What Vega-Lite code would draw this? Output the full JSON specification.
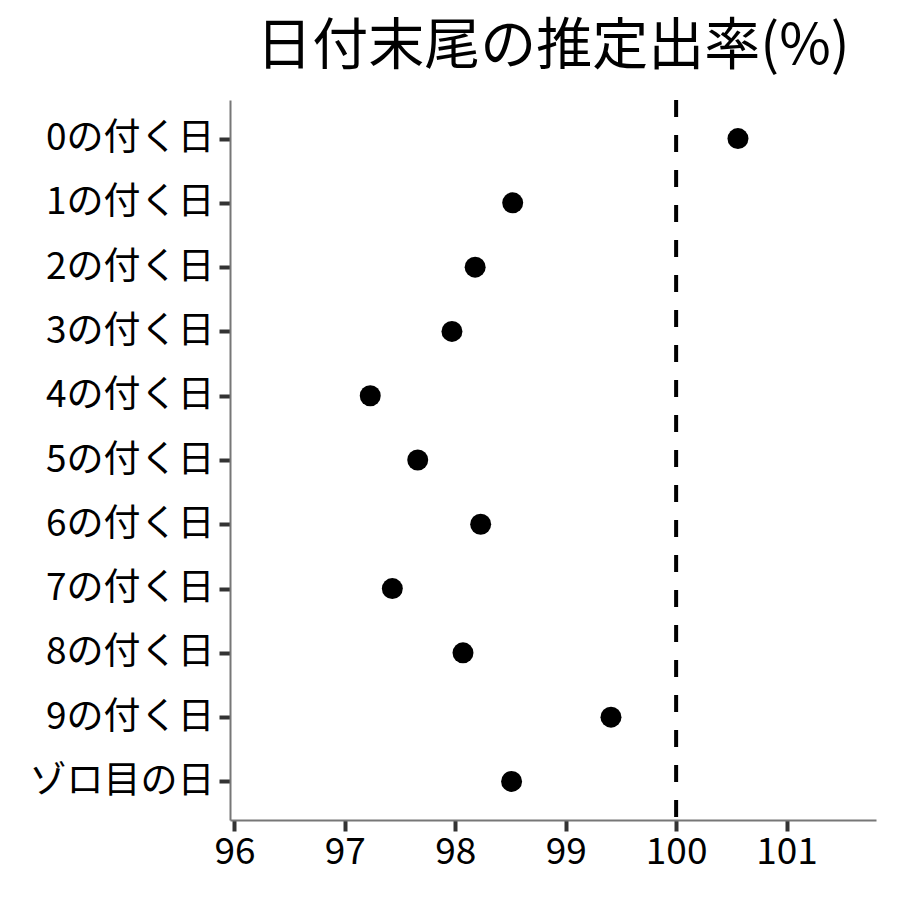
{
  "$schema": "https://vega.github.io/schema/vega-lite/v6.json",
  "autosize": {"type": "none"},
  "width": 646,
  "height": 720,
  "padding": {"left": 230, "top": 100, "right": 24, "bottom": 80},
  "background": "white",
  "title": {
    "text": "日付末尾の推定出率(%)",
    "font": "Noto Sans CJK JP",
    "fontSize": 56,
    "fontWeight": "normal",
    "color": "black",
    "anchor": "middle",
    "offset": 22
  },
  "config": {
    "view": {"stroke": null},
    "axis": {
      "grid": false,
      "labelFont": "Noto Sans CJK JP",
      "labelFontSize": 37,
      "labelColor": "black",
      "labelLimit": 0,
      "domainColor": "#777777",
      "domainWidth": 2,
      "tickColor": "#333333",
      "tickWidth": 4,
      "tickSize": 11,
      "title": null
    }
  },
  "data": {
    "values": [
      {"day": "0の付く日", "rate": 100.56},
      {"day": "1の付く日", "rate": 98.52},
      {"day": "2の付く日", "rate": 98.18},
      {"day": "3の付く日", "rate": 97.97},
      {"day": "4の付く日", "rate": 97.23},
      {"day": "5の付く日", "rate": 97.66},
      {"day": "6の付く日", "rate": 98.23},
      {"day": "7の付く日", "rate": 97.43},
      {"day": "8の付く日", "rate": 98.07},
      {"day": "9の付く日", "rate": 99.41},
      {"day": "ゾロ目の日", "rate": 98.51}
    ]
  },
  "layer": [
    {
      "mark": {"type": "rule", "color": "black", "strokeWidth": 4, "strokeDash": [17, 18]},
      "data": {"values": [{"ref": 100}]},
      "encoding": {
        "x": {"field": "ref", "type": "quantitative"}
      }
    },
    {
      "mark": {"type": "point", "filled": true, "color": "black", "opacity": 1, "size": 440},
      "encoding": {
        "x": {
          "field": "rate",
          "type": "quantitative",
          "scale": {"domain": [95.96, 101.81], "nice": false, "zero": false},
          "axis": {"values": [96, 97, 98, 99, 100, 101], "format": "d", "labelPadding": 3}
        },
        "y": {
          "field": "day",
          "type": "ordinal",
          "sort": null,
          "scale": {"type": "point", "padding": 0.6},
          "axis": {"labelPadding": 5}
        }
      }
    }
  ]
}
